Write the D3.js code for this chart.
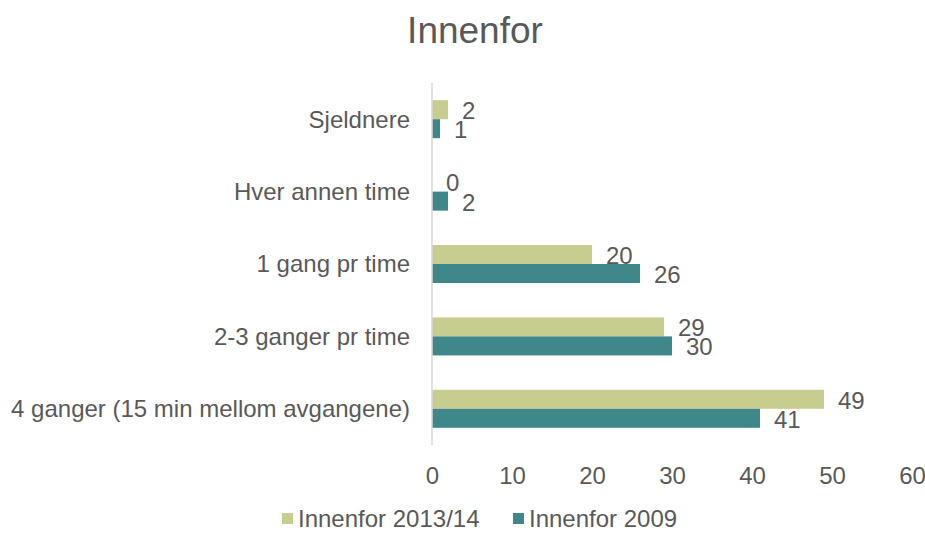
<!DOCTYPE html>
<html>
<head>
<meta charset="utf-8">
<script src="https://cdn.jsdelivr.net/npm/d3@7"></script>
<style>
  body { margin: 0; background: #fff; }
  text { font-family: "Liberation Sans", Arial, sans-serif; fill: #595959; }
</style>
</head>
<body>
<div id="chart"></div>
<script>
var categories = ["Sjeldnere", "Hver annen time", "1 gang pr time", "2-3 ganger pr time", "4 ganger (15 min mellom avgangene)"];
var seriesNames = ["Innenfor 2013/14", "Innenfor 2009"];
var values2013 = [2, 0, 20, 29, 49];
var values2009 = [1, 2, 26, 30, 41];
var xTicks = [0, 10, 20, 30, 40, 50, 60];
var colors = ["#c6cd8f", "#40878a"];

var width = 925, height = 535;
var margin = {top: 83, left: 432, right: 13, bottom: 90};
var fs = "24px";

var svg = d3.select("#chart")
    .append("svg")
        .attr("width", width)
        .attr("height", height);

// title
svg.append("text")
    .attr("x", 475)
    .attr("y", 30)
    .attr("dy", "0.35em")
    .attr("text-anchor", "middle")
    .style("font-size", "37px")
    .text("Innenfor");

var x = d3.scaleLinear()
    .domain([0, 60])
    .range([margin.left, width - margin.right]);

var y = d3.scaleBand()
    .domain(categories)
    .range([margin.top, height - margin.bottom])
    .paddingInner(0)
    .paddingOuter(0);

var bandPad = 0.475;
var barH = y.bandwidth() * (1 - bandPad) / 2;

var rows = categories.map(function(c, i) {
    return {cat: c, vals: [values2013[i], values2009[i]]};
});

// bars
var groups = svg.append("g")
    .selectAll("g")
    .data(rows)
    .enter()
    .append("g");

groups.selectAll("rect")
    .data(function(d) { return d.vals.map(function(v, s) { return {cat: d.cat, v: v, s: s}; }); })
    .enter()
    .append("rect")
        .attr("x", x(0))
        .attr("y", function(d) { return y(d.cat) + y.bandwidth() / 2 - barH + d.s * barH; })
        .attr("width", function(d) { return x(d.v) - x(0); })
        .attr("height", barH)
        .style("fill", function(d) { return colors[d.s]; });

// value labels (the reference's labels touch each other too)
groups.selectAll("text")
    .data(function(d) { return d.vals.map(function(v, s) { return {cat: d.cat, v: v, s: s}; }); })
    .enter()
    .append("text")
        .attr("x", function(d) { return x(d.v) + 14; })
        .attr("y", function(d) { return y(d.cat) + y.bandwidth() / 2 - barH + d.s * barH + barH / 2 + 1; })
        .attr("dy", "0.35em")
        .style("font-size", fs)
        .text(function(d) { return d.v; });

// y axis (line + category labels)
svg.append("line")
    .attr("x1", x(0)).attr("x2", x(0))
    .attr("y1", margin.top).attr("y2", height - margin.bottom)
    .style("stroke", "#d9d9d9")
    .style("stroke-width", 1.5);

svg.append("g")
    .selectAll("text")
    .data(categories)
    .enter()
    .append("text")
        .attr("x", 410)
        .attr("y", function(d) { return y(d) + y.bandwidth() / 2; })
        .attr("dy", "0.35em")
        .attr("text-anchor", "end")
        .style("font-size", fs)
        .text(function(d) { return d; });

// x axis
var xAxis = svg.append("g")
    .attr("transform", "translate(0," + (height - margin.bottom) + ")")
    .call(d3.axisBottom(x).tickValues(xTicks).tickSize(0).tickPadding(22));
xAxis.select(".domain").remove();
xAxis.selectAll("text")
    .style("font-size", fs)
    .style("font-family", "'Liberation Sans', Arial, sans-serif")
    .style("fill", "#595959");

// legend
var legendX = [282, 513];
var legend = svg.append("g")
    .selectAll("g")
    .data(seriesNames)
    .enter()
    .append("g")
        .attr("transform", function(d, i) { return "translate(" + legendX[i] + ",513)"; });

legend.append("rect")
    .attr("width", 11)
    .attr("height", 11)
    .style("fill", function(d, i) { return colors[i]; });

legend.append("text")
    .attr("x", 16)
    .attr("y", 6)
    .attr("dy", "0.35em")
    .style("font-size", fs)
    .text(function(d) { return d; });
</script>
</body>
</html>
